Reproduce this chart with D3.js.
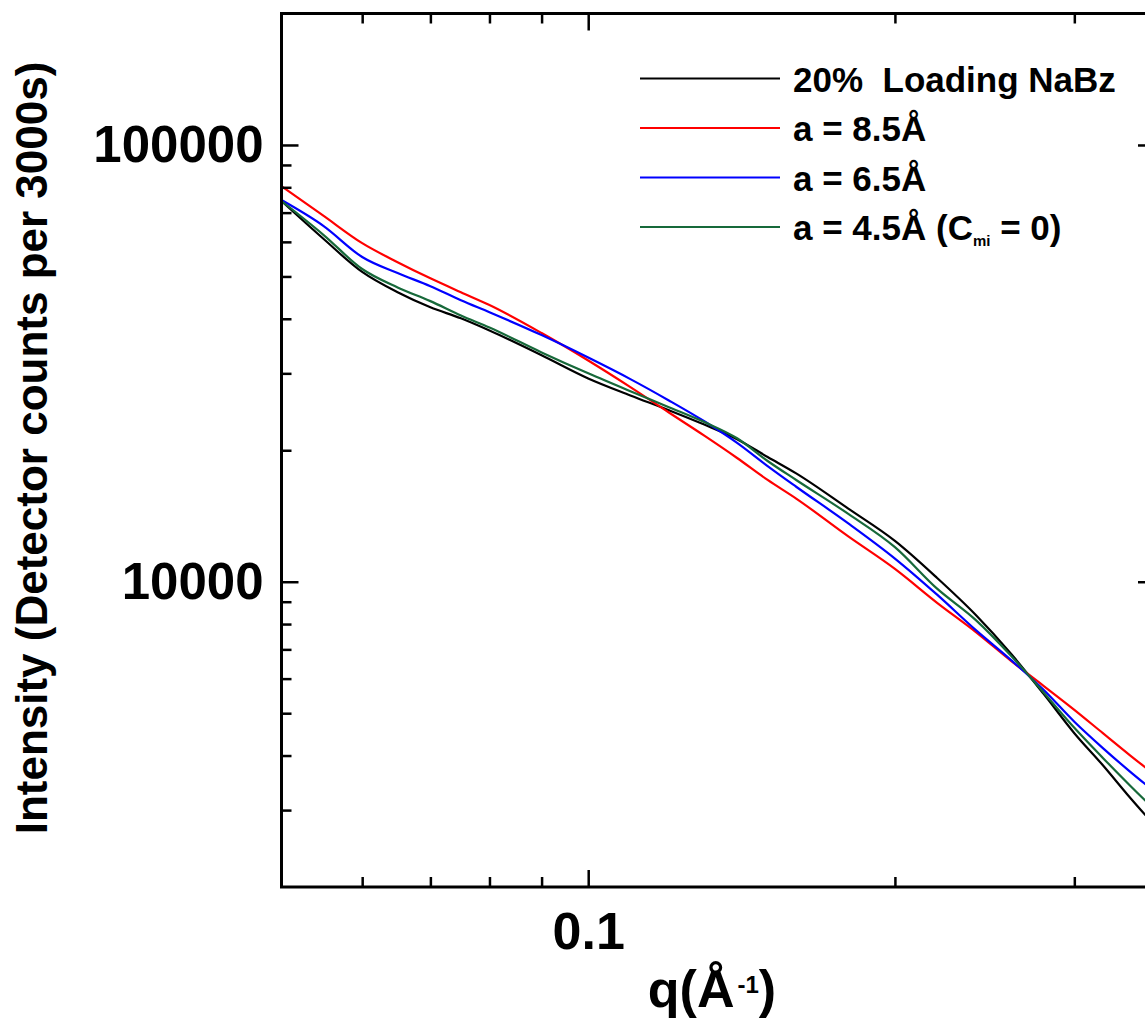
<!DOCTYPE html>
<html>
<head>
<meta charset="utf-8">
<script src="https://cdn.jsdelivr.net/npm/d3@7"></script>
<style>
  html, body { margin: 0; padding: 0; background: #fff; }
  svg { display: block; }
  text { font-family: "Liberation Sans", Arial, Helvetica, sans-serif; font-weight: bold; fill: #000; }
</style>
</head>
<body>
<svg id="chart" width="1145" height="1018"></svg>
<script>
// ---- data ----
const qValues = [0.05, 0.055, 0.06, 0.065, 0.07, 0.075, 0.08, 0.09, 0.1, 0.11, 0.12, 0.13, 0.14, 0.15, 0.16, 0.18, 0.2, 0.22, 0.24, 0.26, 0.28, 0.3, 0.32, 0.34, 0.36];
const dataNaBz = [74400, 60900, 51200, 46000, 42500, 40100, 37600, 33000, 29200, 26700, 24700, 22900, 21200, 19300, 17700, 14700, 12400, 10200, 8400, 6840, 5530, 4500, 3800, 3210, 2760];
const fitA85 = [80500, 68800, 59600, 53900, 49500, 46000, 43000, 37100, 32100, 27900, 24400, 21600, 19200, 17100, 15500, 12700, 10700, 8950, 7680, 6590, 5770, 5090, 4500, 4010, 3610];
const fitA65 = [74800, 65200, 55400, 50900, 47500, 44100, 41400, 36700, 32600, 29100, 26000, 23300, 20800, 18400, 16500, 13600, 11300, 9340, 7760, 6620, 5650, 4780, 4160, 3680, 3300];
const fitA45 = [74400, 62200, 52000, 47200, 43900, 40700, 38200, 33500, 30000, 27300, 25100, 23200, 21300, 18900, 17100, 14300, 12000, 9640, 8180, 6770, 5570, 4630, 3950, 3420, 3000];

const seriesNames = ["20%  Loading NaBz", "a = 8.5Å", "a = 6.5Å", "a = 4.5Å (C"];
const seriesColors = ["#000000", "#ff0000", "#0000ff", "#17693a"];

const xDomain = [0.05, 0.36];
const yDomain = [2000, 200000];
const xMajorTicks = [0.1];
const xMinorTicks = [0.06, 0.07, 0.08, 0.09, 0.2, 0.3];
const yMajorTicks = [10000, 100000];
const yMinorTicks = [3000, 4000, 5000, 6000, 7000, 8000, 9000, 20000, 30000, 40000, 50000, 60000, 70000, 80000, 90000];

// ---- layout ----
const svg = d3.select("#chart");
const L = 281.5, R = 1155, T = 13.5, B = 887;

const x = d3.scaleLog().domain(xDomain).range([L, R]);
const y = d3.scaleLog().domain(yDomain).range([B, T]);

svg.append("rect").attr("width", 1145).attr("height", 1018).attr("fill", "#fff");

const series = [dataNaBz, fitA85, fitA65, fitA45];
const line = d3.line()
  .x((d, i) => x(qValues[i]))
  .y(d => y(d))
  .curve(d3.curveMonotoneX);

svg.append("clipPath").attr("id", "plotclip")
  .append("rect").attr("x", L).attr("y", T).attr("width", R - L).attr("height", B - T);

const gLines = svg.append("g").attr("clip-path", "url(#plotclip)");
series.forEach((s, k) => {
  gLines.append("path")
    .datum(s)
    .attr("d", line)
    .attr("fill", "none")
    .attr("stroke", seriesColors[k])
    .attr("stroke-width", 2.2)
    .attr("stroke-linejoin", "round");
});

// ---- axes (ticks inward on all four sides) ----
function styleAxis(g, w) {
  g.select(".domain").remove();
  g.selectAll(".tick line").attr("stroke", "#000").attr("stroke-width", w);
}
const fmtNone = () => "";

// bottom
const gB = svg.append("g").attr("transform", `translate(0,${B})`);
gB.call(d3.axisBottom(x).tickValues(xMajorTicks).tickSize(-17).tickPadding(25).tickFormat(d3.format("")));
styleAxis(gB, 2.5);
gB.selectAll("text").attr("font-size", 52).attr("font-family", "Liberation Sans, Arial, sans-serif").attr("font-weight", "bold").attr("fill", "#000");
const gBm = svg.append("g").attr("transform", `translate(0,${B})`);
gBm.call(d3.axisBottom(x).tickValues(xMinorTicks).tickSize(-10).tickFormat(fmtNone));
styleAxis(gBm, 2.5);

// top
const gT = svg.append("g").attr("transform", `translate(0,${T})`);
gT.call(d3.axisTop(x).tickValues(xMajorTicks).tickSize(-17).tickFormat(fmtNone));
styleAxis(gT, 2.5);
const gTm = svg.append("g").attr("transform", `translate(0,${T})`);
gTm.call(d3.axisTop(x).tickValues(xMinorTicks).tickSize(-10).tickFormat(fmtNone));
styleAxis(gTm, 2.5);

// left
const gL = svg.append("g").attr("transform", `translate(${L},0)`);
gL.call(d3.axisLeft(y).tickValues(yMajorTicks).tickSize(-17).tickPadding(18).tickFormat(d3.format("d")));
styleAxis(gL, 2.5);
gL.selectAll("text").attr("font-size", 51).attr("font-family", "Liberation Sans, Arial, sans-serif").attr("font-weight", "bold").attr("fill", "#000");
const gLm = svg.append("g").attr("transform", `translate(${L},0)`);
gLm.call(d3.axisLeft(y).tickValues(yMinorTicks).tickSize(-10).tickFormat(fmtNone));
styleAxis(gLm, 2.5);

// right
const gR = svg.append("g").attr("transform", `translate(${R},0)`);
gR.call(d3.axisRight(y).tickValues(yMajorTicks).tickSize(-17).tickFormat(fmtNone));
styleAxis(gR, 2.5);
const gRm = svg.append("g").attr("transform", `translate(${R},0)`);
gRm.call(d3.axisRight(y).tickValues(yMinorTicks).tickSize(-10).tickFormat(fmtNone));
styleAxis(gRm, 2.5);

// frame
svg.append("rect")
  .attr("x", L).attr("y", T).attr("width", R - L).attr("height", B - T)
  .attr("fill", "none").attr("stroke", "#000").attr("stroke-width", 3);

// ---- axis titles ----
const xt = svg.append("text")
  .attr("x", 712).attr("y", 1007)
  .attr("text-anchor", "middle")
  .attr("font-size", 52);
xt.append("tspan").text("q(Å");
xt.append("tspan").attr("font-size", 24).attr("dx", 3).attr("dy", -14).text("-1");
xt.append("tspan").attr("dy", 14).text(")");

svg.append("text")
  .attr("transform", "translate(47,448) rotate(-90)")
  .attr("text-anchor", "middle")
  .attr("font-size", 44)
  .text("Intensity (Detector counts per 3000s)");

// ---- legend ----
const legY0 = 78.5, legDy = 49.5;
const gLeg = svg.append("g");
seriesNames.forEach((name, k) => {
  const yy = legY0 + k * legDy;
  gLeg.append("line")
    .attr("x1", 640).attr("x2", 780).attr("y1", yy).attr("y2", yy)
    .attr("stroke", seriesColors[k]).attr("stroke-width", 2.2);
  const t = gLeg.append("text")
    .attr("x", 793).attr("y", yy + 13)
    .attr("font-size", 35)
    .attr("xml:space", "preserve")
    .style("white-space", "pre");
  t.append("tspan").text(name);
  if (k === 3) {
    t.append("tspan").attr("font-size", 15).attr("dy", 6).text("mi");
    t.append("tspan").attr("dy", -6).text(" = 0)");
  }
});
</script>
</body>
</html>
